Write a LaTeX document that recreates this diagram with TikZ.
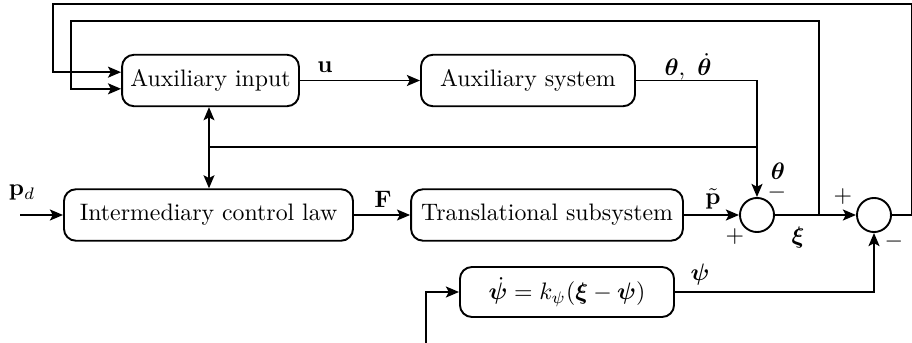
\documentclass[tikz,border=0pt]{standalone}
\usepackage{amsmath,amssymb,bm}
\usetikzlibrary{arrows.meta}
\begin{document}
\begin{tikzpicture}[x=0.42pt,y=-0.42pt,
  line width=0.8pt,
  >={Stealth[length=5.5pt,width=4.6pt,inset=1.2pt]},
  blk/.style={draw,rounded corners=5pt,inner sep=0pt,minimum height=21.6pt},
  sumc/.style={draw,circle,inner sep=0pt,minimum size=14.3pt},
  lbl/.style={inner sep=0pt}]
\useasboundingbox (0,0) rectangle (912,343);
% blocks
\node[blk,minimum width=74.3pt] (ai) at (210.5,80.5) {Auxiliary input};
\node[blk,minimum width=89.9pt] (as) at (528,80.5) {Auxiliary system};
\node[blk,minimum width=121.4pt] (icl) at (208.5,215) {Intermediary control law};
\node[blk,minimum width=114.2pt] (ts) at (547,215) {Translational subsystem};
\node[blk,minimum width=89.9pt,minimum height=21pt] (pf) at (567,292) {$\dot{\bm{\psi}} = k_{\psi}(\bm{\xi}-\bm{\psi})$};
\node[sumc] (s1) at (757,215) {};
\node[sumc] (s2) at (874,215) {};
% coordinates
\coordinate (pin) at (20,215);
\coordinate (c1) at (757,80.5);
\coordinate (j1) at (757,147);
\coordinate (j2) at (209,147);
\coordinate (jx) at (819,215);
\coordinate (out) at (912,215);
\coordinate (pfin) at (426,343);
% connections
\draw[->] (pin) -- (icl);
\draw[->] (icl) -- (ts);
\draw[->] (ts) -- (s1);
\draw[->] (ai) -- (as);
\draw[->] (as.east) -- (c1) -- (s1.north);
\draw (j1) -- (j2);
\draw[->] (j2) -- (ai.south -| j2);
\draw[->] (j2) -- (icl.north -| j2);
\draw[->] (s1) -- (s2);
\draw (s2) -- (out);
\draw[->] (pf.east) -| (s2.south);
\draw[->] (pfin) |- (pf.west);
\draw[->] (jx) -- (819,21) -- (71,21) |- ([yshift=-3.5pt]ai.west);
\draw[->] (out) -- (912,4) -- (53,4) |- ([yshift=3.5pt]ai.west);
% labels
\node[lbl] at (325,67) {$\mathbf{u}$};
\node[lbl] at (688,67) {$\bm{\theta},\ \dot{\bm{\theta}}$};
\node[lbl] at (22,193) {$\mathbf{p}_d$};
\node[lbl] at (383,199) {$\mathbf{F}$};
\node[lbl] at (713,199) {$\tilde{\mathbf{p}}$};
\node[lbl] at (778,171) {$\bm{\theta}$};
\node[lbl] at (777,193) {$-$};
\node[lbl] at (735,237) {$+$};
\node[lbl] at (798,238) {$\bm{\xi}$};
\node[lbl] at (843,197) {$+$};
\node[lbl] at (894,242) {$-$};
\node[lbl] at (700,275) {$\bm{\psi}$};
\end{tikzpicture}
\end{document}
